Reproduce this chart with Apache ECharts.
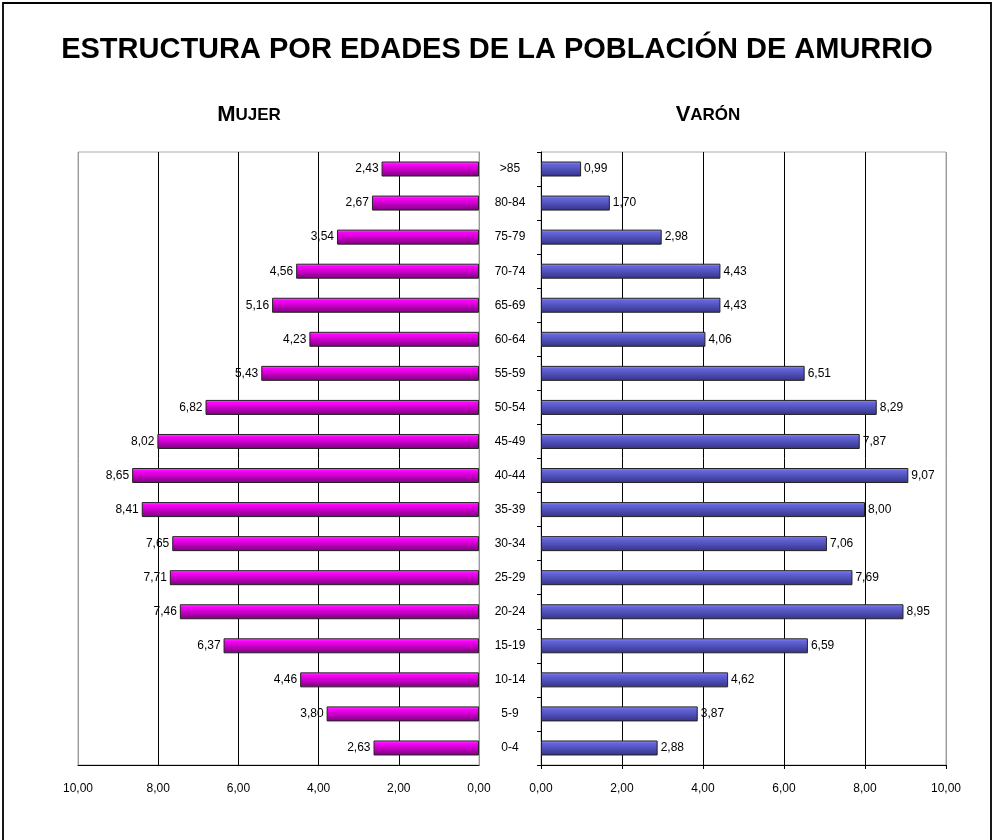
<!DOCTYPE html>
<html>
<head>
<meta charset="utf-8">
<script src="https://cdn.jsdelivr.net/npm/echarts@6/dist/echarts.min.js"></script>
<style>html,body{margin:0;padding:0;background:#fff}#c{width:994px;height:840px}</style>
</head>
<body>
<div id="c"></div>
<script>
var categories = ['>85','80-84','75-79','70-74','65-69','60-64','55-59','50-54','45-49','40-44','35-39','30-34','25-29','20-24','15-19','10-14','5-9','0-4'];
var mujer = [2.43,2.67,3.54,4.56,5.16,4.23,5.43,6.82,8.02,8.65,8.41,7.65,7.71,7.46,6.37,4.46,3.80,2.63];
var varon = [0.99,1.70,2.98,4.43,4.43,4.06,6.51,8.29,7.87,9.07,8.00,7.06,7.69,8.95,6.59,4.62,3.87,2.88];
var titleText = 'ESTRUCTURA POR EDADES DE LA POBLACIÓN DE AMURRIO';

var FONT = '"Liberation Sans", Arial, sans-serif';
function fmt(v){ return (typeof v === 'object' ? v.value : v).toFixed(2).replace('.', ','); }
function grad(c0, c1, c2){
  return new echarts.graphic.LinearGradient(0,0,0,1,[
    {offset:0,color:c0},{offset:0.18,color:c1},{offset:1,color:c2}]);
}
var chart = echarts.init(document.getElementById('c'), null, {renderer:'canvas'});
var axisLabelStyle = {fontFamily: FONT, fontSize: 12, color: '#000', margin: 18, formatter: function(v){return v.toFixed(2).replace('.', ',');}};
var subRich = {a:{fontFamily:FONT,fontSize:22,fontWeight:'bold',color:'#000'},b:{fontFamily:FONT,fontSize:17,fontWeight:'bold',color:'#000'}};
chart.setOption({
  backgroundColor: '#fff',
  animation: false,
  title: [
    {text: titleText, left: 'center', top: 30, textStyle:{fontFamily: FONT, fontSize: 29, fontWeight:'bold', color:'#000'}},
    {text: '{a|M}{b|UJER}', left: 244, textAlign:'center', top: 99, textStyle:{rich: subRich}},
    {text: '{a|V}{b|ARÓN}', left: 703, textAlign:'center', top: 99, textStyle:{rich: subRich}}
  ],
  graphic: [{type:'rect', shape:{x:3,y:3,width:988,height:860}, style:{fill:'none', stroke:'#000', lineWidth:1.8}, silent:true, z:-1}],
  grid: [
    {left: 78, right: 515, top: 152, bottom: 75, show: true, borderColor: '#aaa', borderWidth: 1},
    {left: 541, right: 48, top: 152, bottom: 75, show: true, borderColor: '#aaa', borderWidth: 1}
  ],
  xAxis: [
    {gridIndex:0, type:'value', min:0, max:10, interval:2, inverse:true,
     axisLine:{show:true, lineStyle:{color:'#000'}}, axisTick:{show:false},
     axisLabel: axisLabelStyle,
     splitLine:{show:true, lineStyle:{color:['#999','#000','#000','#000','#000','#999']}}},
    {gridIndex:1, type:'value', min:0, max:10, interval:2,
     axisLine:{show:true, lineStyle:{color:'#000'}}, axisTick:{show:true, length:4, lineStyle:{color:'#000'}},
     axisLabel: axisLabelStyle,
     splitLine:{show:true, lineStyle:{color:['#000','#000','#000','#000','#000','#999']}}}
  ],
  yAxis: [
    {gridIndex:0, type:'category', data: categories, inverse:true, position:'right',
     axisLine:{show:true, lineStyle:{color:'#999'}}, axisTick:{show:false},
     axisLabel:{fontFamily:FONT, fontSize:12, color:'#000', align:'center', margin:31}},
    {gridIndex:1, type:'category', data: categories, inverse:true, position:'left',
     axisLine:{show:true, lineStyle:{color:'#000'}}, axisTick:{show:true, length:4, lineStyle:{color:'#000'}},
     axisLabel:{show:false}}
  ],
  series: [
    {type:'bar', name:'Mujer', xAxisIndex:0, yAxisIndex:0, data: mujer, barWidth: 15,
     itemStyle:{color: grad('#ff66ff','#ff00ff','#7a007a'), borderColor:'#222', borderWidth:1},
     label:{show:true, position:'left', distance:3, formatter: function(p){return fmt(p.value);}, fontFamily:FONT, fontSize:12, color:'#000'}},
    {type:'bar', name:'Varón', xAxisIndex:1, yAxisIndex:1, data: varon, barWidth: 15,
     itemStyle:{color: grad('#9999ff','#6666dd','#333388'), borderColor:'#222', borderWidth:1},
     label:{show:true, position:'right', distance:3, formatter: function(p){return fmt(p.value);}, fontFamily:FONT, fontSize:12, color:'#000'}}
  ]
});
</script>
</body>
</html>
